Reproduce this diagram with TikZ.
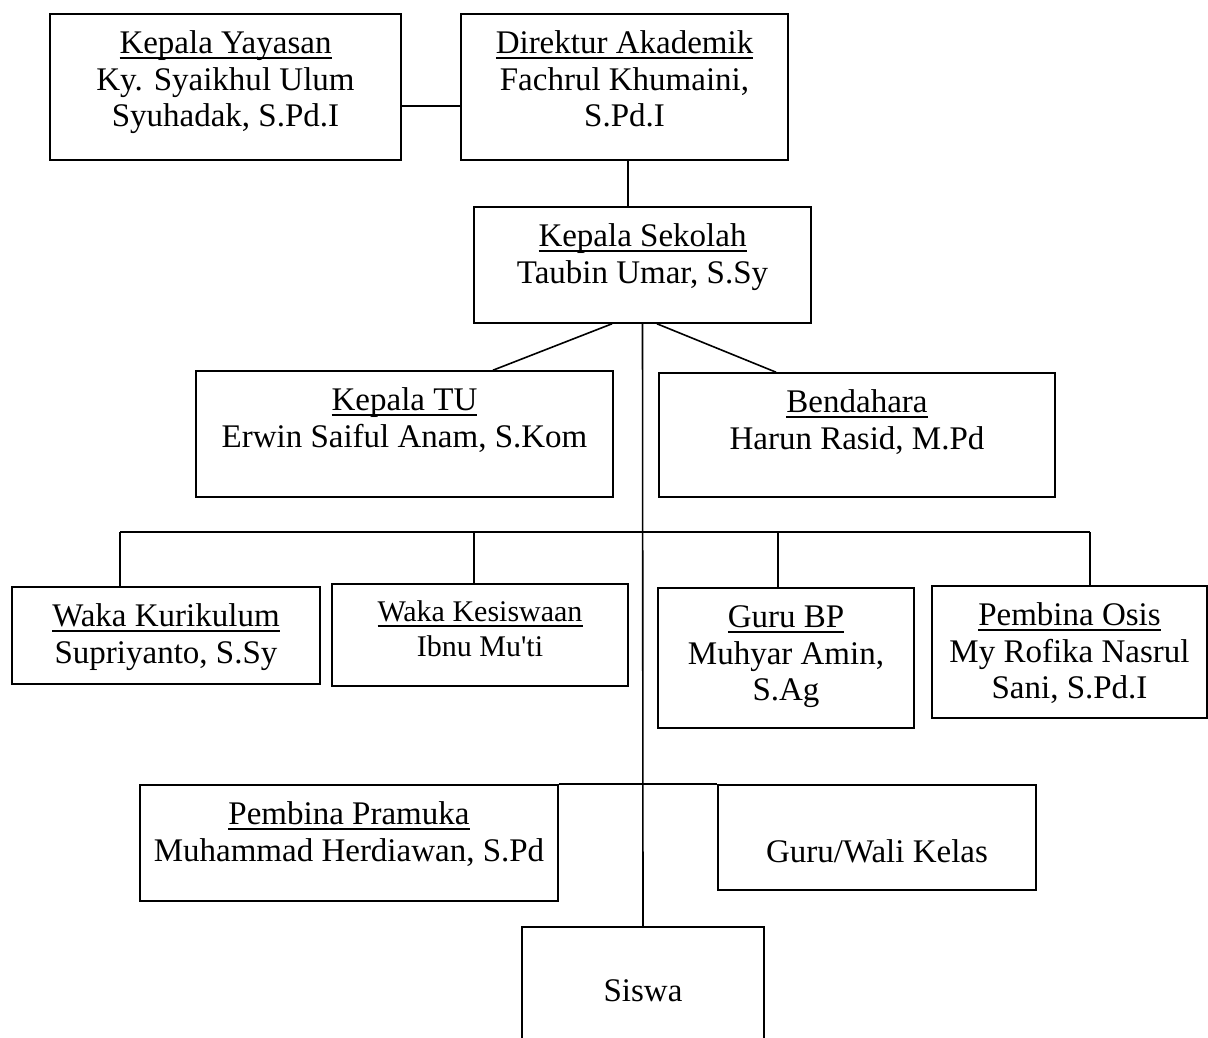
\documentclass[tikz,border=0pt]{standalone}
\usepackage{fontspec}
\setmainfont{Liberation Serif}
\usetikzlibrary{positioning}
\newcommand\titleline[1]{\setbox0=\hbox{#1}\rlap{\rule[-2.6pt]{\wd0}{0.7pt}}\box0}

\begin{document}
\begin{tikzpicture}[x=0.5pt,y=-0.5pt,
		box/.style 2 args={draw,line width=0.8pt,inner sep=0pt,
				minimum width=#1*0.5pt,minimum height=#2*0.5pt},
		txt/.style={inner sep=0pt,align=center,font=\fontsize{16.5}{18.4}\selectfont},
		small/.style={font=\fontsize{15}{17.5}\selectfont},
		l/.style={line width=0.8pt}
		]
		\useasboundingbox (0,0) rectangle (1208,1037);
		\clip (0,0) rectangle (1208,1037);
		\node[box={351}{146}] (ky) at (225.5,87) {};
		\node[box={327}{146}] (da) at (624.5,87) {};
		\node[box={337}{116}] (ks) at (642.5,265) {};
		\node[box={417}{126}] (tu) at (404.5,434) {};
		\node[box={396}{124}] (bd) at (857,435) {};
		\node[box={308}{97}] (wk) at (166,635.5) {};
		\node[box={296}{102}] (ws) at (480,635) {};
		\node[box={256}{140}] (gb) at (786,658) {};
		\node[box={275}{132}] (po) at (1069.5,652) {};
		\node[box={418}{116}] (pp) at (349,843) {};
		\node[box={318}{105}] (gw) at (877,837.5) {};
		\node[box={242}{140}] (sw) at (643,997) {};
		\node[txt,below=7pt of ky.north] (kyt) {\strut\titleline{Kepala Yayasan}\\Ky. Syaikhul Ulum\\Syuhadak, S.Pd.I};
		\node[txt,below=7pt of da.north] (dat) {\strut\titleline{Direktur Akademik}\\Fachrul Khumaini,\\S.Pd.I};
		\node[txt,below=7pt of ks.north] (kst) {\strut\titleline{Kepala Sekolah}\\Taubin Umar, S.Sy};
		\node[txt,below=7pt of tu.north] (tut) {\strut\titleline{Kepala TU}\\Erwin Saiful Anam, S.Kom};
		\node[txt,below=7pt of bd.north] (bdt) {\strut\titleline{Bendahara}\\Harun Rasid, M.Pd};
		\node[txt,below=7pt of wk.north] (wkt) {\strut\titleline{Waka Kurikulum}\\Supriyanto, S.Sy};
		\node[txt,small,below=6.75pt of ws.north] (wst) {\strut\titleline{Waka Kesiswaan}\\Ibnu Mu\textquotesingle ti};
		\node[txt,below=7pt of gb.north] (gbt) {\strut\titleline{Guru BP}\\Muhyar Amin,\\S.Ag};
		\node[txt,below=7pt of po.north] (pot) {\strut\titleline{Pembina Osis}\\My Rofika Nasrul\\Sani, S.Pd.I};
		\node[txt,below=7pt of pp.north] (ppt) {\strut\titleline{Pembina Pramuka}\\Muhammad Herdiawan, S.Pd};
		\node[txt,below=26pt of gw.north] (gwt) {\strut Guru/Wali Kelas};
		\node[txt,below=24.5pt of sw.north] (swt) {\strut Siswa};
		\coordinate (dab) at ([xshift=1.75pt]da.south);
		\coordinate (b1) at (120,532);
		\coordinate (b2) at (474,532);
		\coordinate (b3) at (778,532);
		\coordinate (b4) at (1090,532);
		\draw[l] ([yshift=-9.5pt]ky.east) -- ([yshift=-9.5pt]da.west);
		\draw[l] (dab) -- (dab |- ks.north);
		\draw[l] ([xshift=-15.25pt]ks.south) -- ([xshift=44.25pt]tu.north);
		\draw[l] ([xshift=7.25pt]ks.south) -- ([xshift=-40.5pt]bd.north);
		\draw[l] (ks.south) -- (sw.north);
		\draw[l] (b1) -- (b4);
		\draw[l] (b1) -- (b1 |- wk.north);
		\draw[l] (b2) -- (b2 |- ws.north);
		\draw[l] (b3) -- (b3 |- gb.north);
		\draw[l] (b4) -- (b4 |- po.north);
		\draw[l] (pp.north east) -- (gw.north west);
	\end{tikzpicture}
\end{document}
